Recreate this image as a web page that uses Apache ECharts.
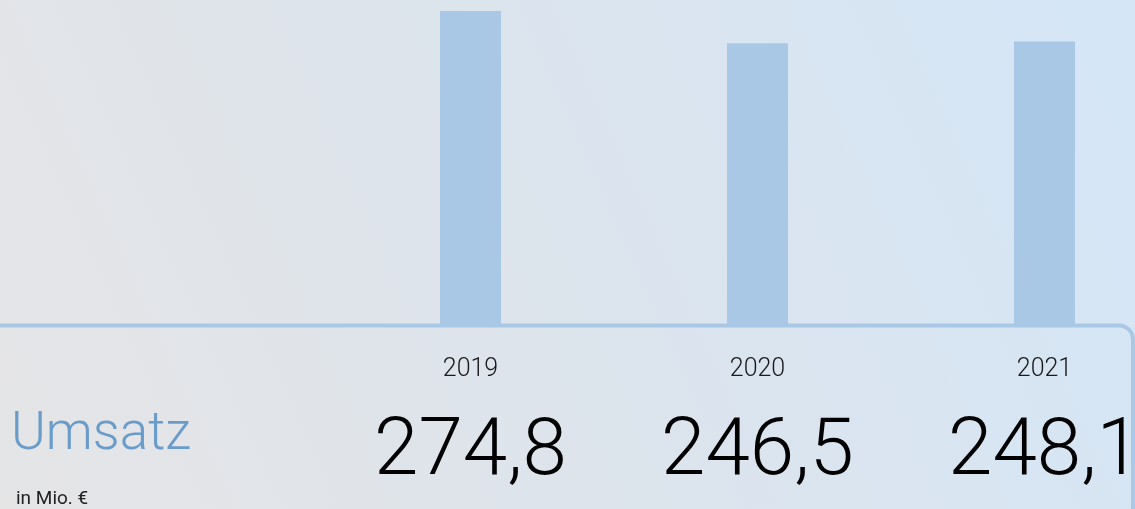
<!DOCTYPE html>
<html><head><meta charset="utf-8">
<script src="https://cdn.jsdelivr.net/npm/echarts@6/dist/echarts.min.js"></script>
<style>html,body{margin:0;padding:0;}#c{width:1135px;height:509px;}</style>
</head><body><div id="c"></div>
<script>
const categories = ['2019', '2020', '2021'];
const umsatz = [274.8, 246.5, 248.1];
const title = 'Umsatz';
const unit = 'in Mio. €';

const fmt = v => v.toFixed(1).replace('.', ',');
const chart = echarts.init(document.getElementById('c'));
chart.setOption({
  backgroundColor: new echarts.graphic.LinearGradient(0, 1, 1, 0, [
    {offset: 0, color: '#e5e5e6'},
    {offset: 0.45, color: '#dde4ec'},
    {offset: 1, color: '#d4e6f7'}
  ]),
  animation: false,
  grid: {left: 470.5, width: 574, top: 0, height: 325, containLabel: false, outerBoundsMode: 'none'},
  xAxis: {
    type: 'category', data: categories, boundaryGap: false,
    axisLine: {show: false}, axisTick: {show: false},
    axisLabel: {
      margin: 25,
      formatter: (val, idx) => '{y|' + val + '}\n{v|' + fmt(umsatz[idx]) + '}',
      rich: {
        y: {fontFamily: 'Roboto', fontWeight: 300, fontSize: 25, color: '#1a1a1a', lineHeight: 40},
        v: {fontFamily: 'Roboto', fontWeight: 300, fontSize: 80, color: '#000', lineHeight: 128}
      }
    }
  },
  yAxis: {type: 'value', min: 0, max: 284.4, show: false, splitLine: {show: false}},
  series: [{
    type: 'bar', data: umsatz, barWidth: 61,
    itemStyle: {color: '#a8c8e6'}
  }],
  graphic: [
    {type: 'rect', shape: {x: -20, y: 325.5, width: 1153, height: 300, r: 14},
     style: {fill: 'none', stroke: '#a9c8e5', lineWidth: 4}, z: 10},
    {type: 'text', left: 11, top: 409, style: {text: title, fontFamily: 'Roboto', fontWeight: 300, fontSize: 53, fill: '#6a9cca'}},
    {type: 'text', left: 16, top: 490, style: {text: unit, fontFamily: 'Roboto', fontSize: 19, fill: '#222'}}
  ]
});
</script></body></html>
